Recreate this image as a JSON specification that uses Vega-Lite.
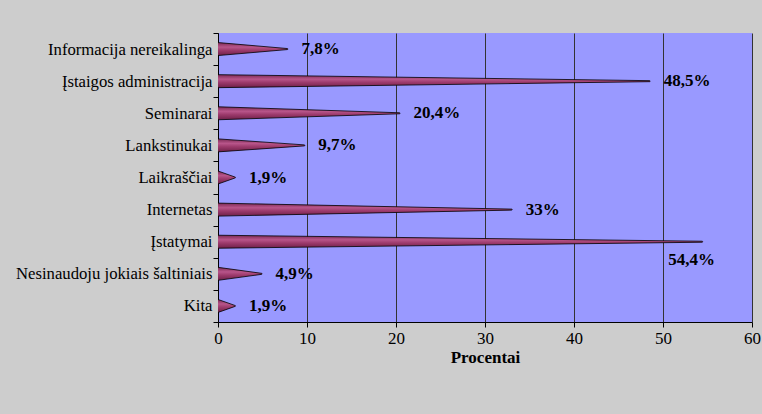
{
  "$schema": "https://vega.github.io/schema/vega-lite/v6.json",
  "width": 534,
  "height": 289,
  "autosize": "none",
  "padding": {"left": 218, "top": 33, "right": 10, "bottom": 92},
  "background": "#cdcdcd",
  "config": {
    "font": "Liberation Serif",
    "axis": {"labelFont": "Liberation Serif", "titleFont": "Liberation Serif"},
    "text": {"font": "Liberation Serif"},
    "locale": {"number": {"decimal": ",", "thousands": " ", "grouping": [3], "currency": ["", "%"]}},
    "view": {"fill": "#9999ff", "stroke": null}
  },
  "data": {
    "values": [
      {"category": "Informacija nereikalinga", "from": 0, "value": 7.8},
      {"category": "Įstaigos administracija", "from": 0, "value": 48.5},
      {"category": "Seminarai", "from": 0, "value": 20.4},
      {"category": "Lankstinukai", "from": 0, "value": 9.7},
      {"category": "Laikraščiai", "from": 0, "value": 1.9},
      {"category": "Internetas", "from": 0, "value": 33},
      {"category": "Įstatymai", "from": 0, "value": 54.4},
      {"category": "Nesinaudoju jokiais šaltiniais", "from": 0, "value": 4.9},
      {"category": "Kita", "from": 0, "value": 1.9}
    ]
  },
  "encoding": {
    "y": {
      "field": "category",
      "type": "nominal",
      "sort": null,
      "scale": {"type": "band", "paddingInner": 0, "paddingOuter": 0},
      "axis": {
        "title": null,
        "tickBand": "extent",
        "grid": false,
        "domainColor": "black",
        "tickColor": "black",
        "tickSize": 5,
        "labelFont": "Liberation Serif",
        "labelFontSize": 16.7,
        "labelColor": "black",
        "labelPadding": 1,
        "labelLimit": 220
      }
    }
  },
  "layer": [
    {
      "transform": [{"fold": ["from", "value"], "as": ["end", "x"]}],
      "mark": {
        "type": "trail",
        "clip": true,
        "stroke": "black",
        "strokeWidth": 0.8,
        "color": {
          "gradient": "linear",
          "x1": 0, "y1": 0, "x2": 0, "y2": 1,
          "stops": [
            {"offset": 0, "color": "#7a2a55"},
            {"offset": 0.35, "color": "#b8558a"},
            {"offset": 0.6, "color": "#9c3a6c"},
            {"offset": 1, "color": "#6e2048"}
          ]
        }
      },
      "encoding": {
        "x": {
          "field": "x",
          "type": "quantitative",
          "scale": {"domain": [0, 60], "nice": false},
          "axis": {
            "title": "Procentai",
            "values": [0, 10, 20, 30, 40, 50, 60],
            "grid": true,
            "gridColor": "#333333",
            "gridOpacity": 1,
            "domainColor": "black",
            "tickColor": "black",
            "tickSize": 5,
            "labelFont": "Liberation Serif",
            "labelFontSize": 17,
            "labelColor": "black",
            "labelPadding": 3,
            "labelFlush": false,
            "titleFont": "Liberation Serif",
            "titleFontSize": 17,
            "titleFontWeight": "bold",
            "titleColor": "black",
            "titlePadding": 3
          }
        },
        "size": {
          "field": "end",
          "type": "ordinal",
          "scale": {"domain": ["from", "value"], "range": [13, 0]},
          "legend": null
        },
        "detail": {"field": "category"}
      }
    },
    {
      "transform": [{"filter": "datum.value < 50"}],
      "mark": {"type": "text", "font": "Liberation Serif", "align": "left", "baseline": "middle", "dx": 14, "fontSize": 17, "fontWeight": "bold", "color": "black"},
      "encoding": {
        "x": {"field": "value", "type": "quantitative", "title": "Procentai"},
        "text": {"field": "value", "type": "quantitative", "format": "$~g"}
      }
    },
    {
      "transform": [{"filter": "datum.value >= 50"}],
      "mark": {"type": "text", "font": "Liberation Serif", "align": "left", "baseline": "middle", "dx": -34, "dy": 18, "fontSize": 17, "fontWeight": "bold", "color": "black"},
      "encoding": {
        "x": {"field": "value", "type": "quantitative", "title": "Procentai"},
        "text": {"field": "value", "type": "quantitative", "format": "$~g"}
      }
    }
  ]
}
